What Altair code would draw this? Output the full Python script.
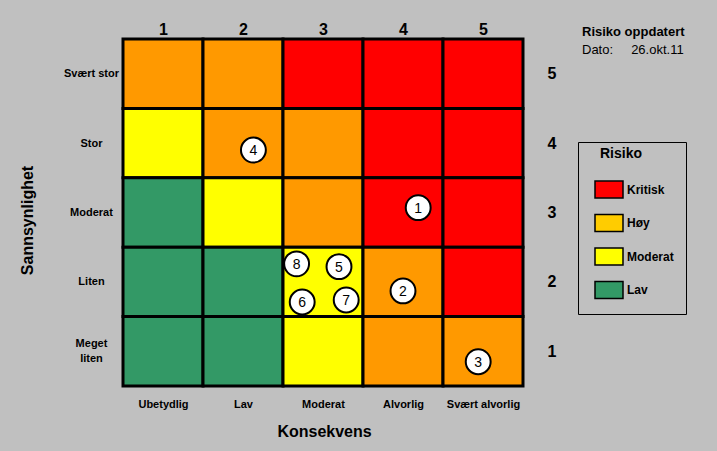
import json
import altair as alt
import pandas as pd

# ---------------- data ----------------
konsekvens = ["Ubetydlig", "Lav", "Moderat", "Alvorlig", "Svært alvorlig"]
sannsynlighet = ["Meget liten", "Liten", "Moderat", "Stor", "Svært stor"]  # 1..5
nivaer = ["Kritisk", "Høy", "Moderat", "Lav"]
celle_farger = ["#FF0000", "#FF9900", "#FFFF00", "#339966"]
legende_farger = ["#FF0000", "#FFCC00", "#FFFF00", "#339966"]

# risk level per cell, rows from probability 5 (top) down to 1
matrise = [
    ["Høy", "Høy", "Kritisk", "Kritisk", "Kritisk"],
    ["Moderat", "Høy", "Høy", "Kritisk", "Kritisk"],
    ["Lav", "Moderat", "Høy", "Kritisk", "Kritisk"],
    ["Lav", "Lav", "Moderat", "Høy", "Kritisk"],
    ["Lav", "Lav", "Moderat", "Høy", "Høy"],
]

risiko_id = [1, 2, 3, 4, 5, 6, 7, 8]
risiko_k = [4.19, 4.00, 4.94, 2.13, 3.20, 2.74, 3.29, 2.67]
risiko_s = [3.07, 1.87, 0.85, 3.90, 2.22, 1.71, 1.74, 2.26]

oppdatert_tittel = "Risiko oppdatert"
dato_tekst = "Dato:" + "\u00a0" * 5 + "26.okt.11"
legende_tittel = "Risiko"

# ---------------- tables ----------------
rows = []
for i, rad in enumerate(matrise):
    s = 5 - i
    for j, niva in enumerate(rad):
        rows.append({"k": j + 1, "s": s, "niva": niva})
celler = pd.DataFrame(rows)
risiko = pd.DataFrame({"id": risiko_id, "k": risiko_k, "s": risiko_s})

FONT = "Liberation Sans"
xs = alt.Scale(domain=[0.5, 5.5], nice=False, zero=False)
ys = alt.Scale(domain=[0.5, 5.5], nice=False, zero=False)

k_expr = json.dumps(konsekvens, ensure_ascii=False)
s_labels = [lbl.split(" ") if lbl == "Meget liten" else lbl for lbl in sannsynlighet]
s_expr = json.dumps(s_labels, ensure_ascii=False)

base_cells = alt.Chart(celler).transform_calculate(
    x0="datum.k - 0.5", x1="datum.k + 0.5", y0="datum.s - 0.5", y1="datum.s + 0.5"
)

# underlay that provides the legend (covered by the cells)
legend_layer = base_cells.mark_rect(stroke="black", strokeWidth=1.5).encode(
    x=alt.X("x0:Q", scale=xs, axis=None),
    x2="x1:Q",
    y=alt.Y("y0:Q", scale=ys, axis=None),
    y2="y1:Q",
    color=alt.Color(
        "niva:N",
        scale=alt.Scale(domain=nivaer, range=legende_farger),
        legend=alt.Legend(
            title="\u2800" + legende_tittel,
            orient="none",
            legendX=455,
            legendY=103,
            padding=12,
            strokeColor="black",
            titleFont=FONT,
            titleFontSize=14,
            titleFontWeight="bold",
            titleColor="black",
            titleBaseline="middle",
            titlePadding=6.5,
            labelFont=FONT,
            labelFontSize=12,
            labelFontWeight="bold",
            labelColor="black",
            labelOffset=3,
            symbolType="M-1,-0.6L1,-0.6L1,0.6L-1,0.6Z",
            symbolSize=784,
            symbolStrokeColor="black",
            symbolStrokeWidth=1.5,
            symbolOpacity=1,
            symbolOffset=4,
            rowPadding=6.5,
        ),
    ),
)

cells = base_cells.mark_rect(stroke="black", strokeWidth=3).encode(
    x=alt.X(
        "x0:Q",
        scale=xs,
        axis=alt.Axis(
            orient="bottom",
            values=[1, 2, 3, 4, 5],
            labelExpr=f"{k_expr}[datum.value - 1]",
            ticks=False,
            domain=False,
            grid=False,
            labelFont=FONT,
            labelFontSize=11,
            labelFontWeight="bold",
            labelColor="black",
            labelBaseline="alphabetic",
            labelPadding=21,
            title="Konsekvens",
            titleFont=FONT,
            titleFontSize=16,
            titleFontWeight="bold",
            titleColor="black",
            titleX=201,
            titleY=45,
            titleBaseline="middle",
        ),
    ),
    x2="x1:Q",
    y=alt.Y(
        "y0:Q",
        scale=ys,
        axis=alt.Axis(
            orient="left",
            values=[1, 2, 3, 4, 5],
            labelExpr=f"{s_expr}[datum.value - 1]",
            ticks=False,
            domain=False,
            grid=False,
            labelFont=FONT,
            labelFontSize=11,
            labelFontWeight="bold",
            labelColor="black",
            labelAlign="center",
            labelBaseline="middle",
            labelLineHeight=15,
            labelOffset={"condition": {"test": "datum.value == 1", "value": -7.5}, "value": 0},
            labelPadding=32,
            title="Sannsynlighet",
            titleFont=FONT,
            titleFontSize=16,
            titleFontWeight="bold",
            titleColor="black",
            titleAngle=270,
            titleX=-96,
            titleY=181,
            titleAlign="center",
            titleBaseline="middle",
        ),
    ),
    y2="y1:Q",
    fill=alt.Fill(
        "niva:N", scale=alt.Scale(domain=nivaer, range=celle_farger), legend=None
    ),
)

bobler = alt.Chart(risiko).mark_circle(
    size=620, color="white", stroke="black", strokeWidth=2, opacity=1
).encode(
    x=alt.X(
        "k:Q",
        scale=xs,
        axis=alt.Axis(
            orient="top",
            values=[1, 2, 3, 4, 5],
            format="d",
            ticks=False,
            domain=False,
            grid=False,
            labelFont=FONT,
            labelFontSize=16,
            labelFontWeight="bold",
            labelColor="black",
            labelBaseline="alphabetic",
            labelPadding=5,
            title=None,
        ),
    ),
    y=alt.Y(
        "s:Q",
        scale=ys,
        axis=alt.Axis(
            orient="right",
            values=[1, 2, 3, 4, 5],
            format="d",
            ticks=False,
            domain=False,
            grid=False,
            labelFont=FONT,
            labelFontSize=16,
            labelFontWeight="bold",
            labelColor="black",
            labelAlign="left",
            labelBaseline="middle",
            labelPadding=24,
            title=None,
        ),
    ),
)

tekst = alt.Chart(risiko).mark_text(
    font=FONT, fontSize=14, color="black", align="center", baseline="middle", dy=1
).encode(
    x=alt.X("k:Q", scale=xs, axis=None),
    y=alt.Y("s:Q", scale=ys, axis=None),
    text="id:N",
)

chart = (
    alt.layer(legend_layer, cells, bobler, tekst)
    .resolve_axis(x="independent", y="independent")
    .properties(
        width=400,
        height=347,
        autosize=alt.AutoSizeParams(type="none"),
        padding={"left": 123, "top": 39, "right": 194, "bottom": 65},
        background="#C0C0C0",
        title=alt.TitleParams(
            text=oppdatert_tittel,
            subtitle=dato_tekst,
            anchor="start",
            frame="group",
            dx=459,
            dy=40,
            font=FONT,
            fontSize=13,
            fontWeight="bold",
            color="black",
            subtitleFont=FONT,
            subtitleFontSize=13,
            subtitleFontWeight="normal",
            subtitleColor="black",
            subtitlePadding=5,
        ),
    )
    .configure_view(strokeWidth=0)
    .configure(font=FONT)
)

chart.save("out.html", embed_options={"renderer": "svg", "actions": False})
